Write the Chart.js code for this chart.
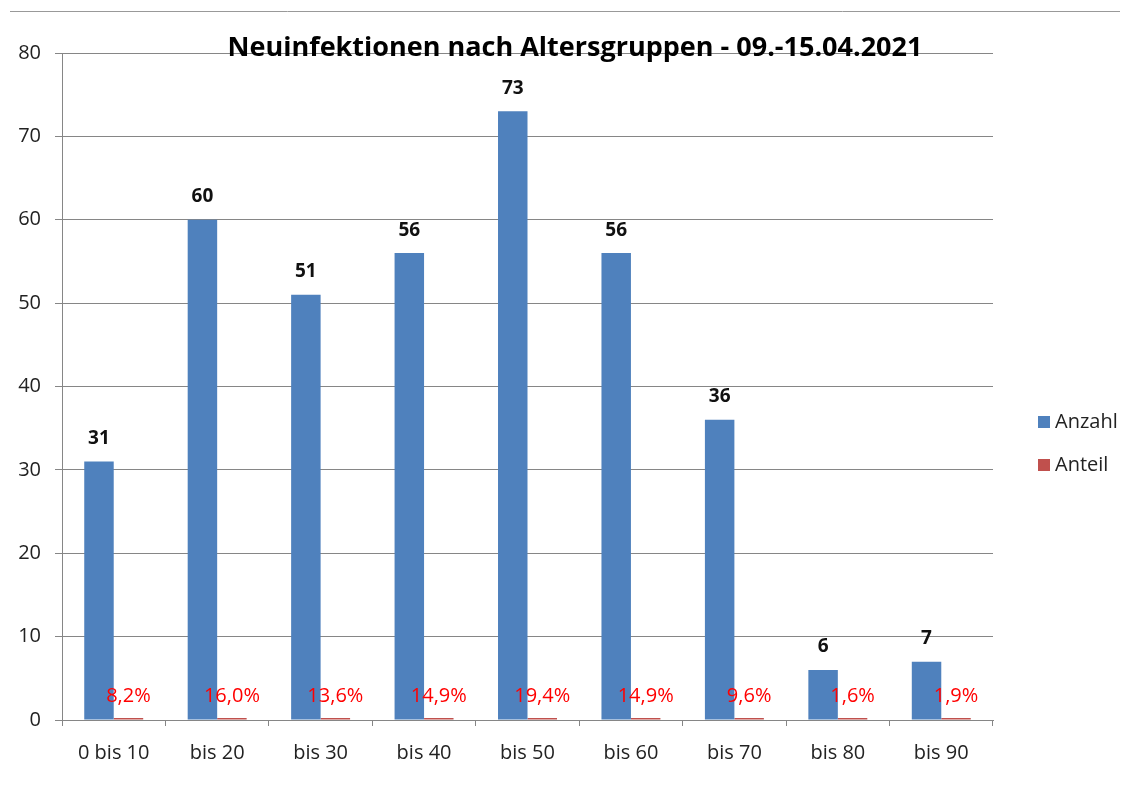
<!DOCTYPE html>
<html>
<head>
<meta charset="utf-8">
<script src="https://cdn.jsdelivr.net/npm/chart.js@4/dist/chart.umd.min.js"></script>
<style>
  body { margin: 0; background: #fff; }
  #wrap { width: 1131px; height: 805px; position: relative; }
</style>
</head>
<body>
<div id="wrap"><canvas id="chart"></canvas></div>
<script>
// data
let ageGroups = ['0 bis 10', 'bis 20', 'bis 30', 'bis 40', 'bis 50', 'bis 60', 'bis 70', 'bis 80', 'bis 90']
let anzahl = [31, 60, 51, 56, 73, 56, 36, 6, 7]
let anteil = [0.082, 0.160, 0.136, 0.149, 0.194, 0.149, 0.096, 0.016, 0.019]
let yTicks = [0, 10, 20, 30, 40, 50, 60, 70, 80]
let chartTitle = 'Neuinfektionen nach Altersgruppen - 09.-15.04.2021'

let fontName = '"Open Sans", sans-serif'

// value labels, title, legend and top line drawn on the canvas
let labelPlugin = {
    id: 'labels',
    afterDatasetsDraw(chart) {
        let ctx = chart.ctx
        ctx.save()
        ctx.textAlign = 'center'
        ctx.textBaseline = 'middle'

        let blue = chart.getDatasetMeta(0)
        ctx.font = 'bold 19px ' + fontName
        ctx.fillStyle = '#111'
        blue.data.forEach(function (bar, i) {
            ctx.fillText(anzahl[i], bar.x, bar.y - 23)
        })

        let red = chart.getDatasetMeta(1)
        ctx.font = '20px ' + fontName
        ctx.fillStyle = '#ff0000'
        red.data.forEach(function (bar, i) {
            let txt = (anteil[i] * 100).toFixed(1).replace('.', ',') + '%'
            ctx.fillText(txt, bar.x, bar.y - 22)
        })

        // title
        ctx.font = 'bold 27px ' + fontName
        ctx.fillStyle = '#000'
        ctx.fillText(chartTitle, 575, 48)

        // legend
        ctx.textAlign = 'left'
        ctx.font = '20px ' + fontName
        chart.data.datasets.forEach(function (ds, i) {
            let y = 422 + i * 43
            ctx.fillStyle = ds.backgroundColor
            ctx.fillRect(1038, y - 6, 12, 12)
            ctx.fillStyle = '#222'
            ctx.fillText(ds.label, 1055, y)
        })

        // top border line
        ctx.strokeStyle = '#999'
        ctx.lineWidth = 1
        ctx.beginPath()
        ctx.moveTo(10, 11.5)
        ctx.lineTo(1120, 11.5)
        ctx.stroke()
        ctx.restore()
    }
}

let context = document.querySelector('#chart').getContext('2d')

let ageChart = new Chart(context, {
    type: 'bar',
    data: {
        labels: ageGroups,
        datasets: [
            {
                label: 'Anzahl',
                data: anzahl,
                backgroundColor: '#4f81bd'
            },
            {
                label: 'Anteil',
                data: anteil,
                backgroundColor: '#c0504d',
                minBarLength: 2
            }
        ]
    },
    options: {
        responsive: true,
        maintainAspectRatio: false,
        animation: false,
        layout: { padding: { left: 0, top: 53, bottom: 0, right: 138 } },
        datasets: {
            bar: { categoryPercentage: 0.57, barPercentage: 1 }
        },
        plugins: {
            tooltip: { enabled: false },
            legend: { display: false }
        },
        scales: {
            x: {
                afterFit: function (axis) { axis.height = 85 },
                grid: { drawOnChartArea: false, drawTicks: true, tickLength: 6, color: '#868686', offset: true },
                border: { color: '#868686' },
                ticks: { color: '#222', padding: 15, font: { family: fontName, size: 20 } }
            },
            y: {
                min: 0,
                max: 80,
                afterFit: function (axis) { axis.width = 62 },
                afterBuildTicks: function (axis) {
                    axis.ticks = yTicks.map(function (v) { return { value: v } })
                },
                grid: { color: '#868686', tickLength: 7 },
                border: { color: '#868686' },
                ticks: { color: '#222', padding: 14, font: { family: fontName, size: 20 } }
            }
        }
    },
    plugins: [labelPlugin]
})
</script>
</body>
</html>
